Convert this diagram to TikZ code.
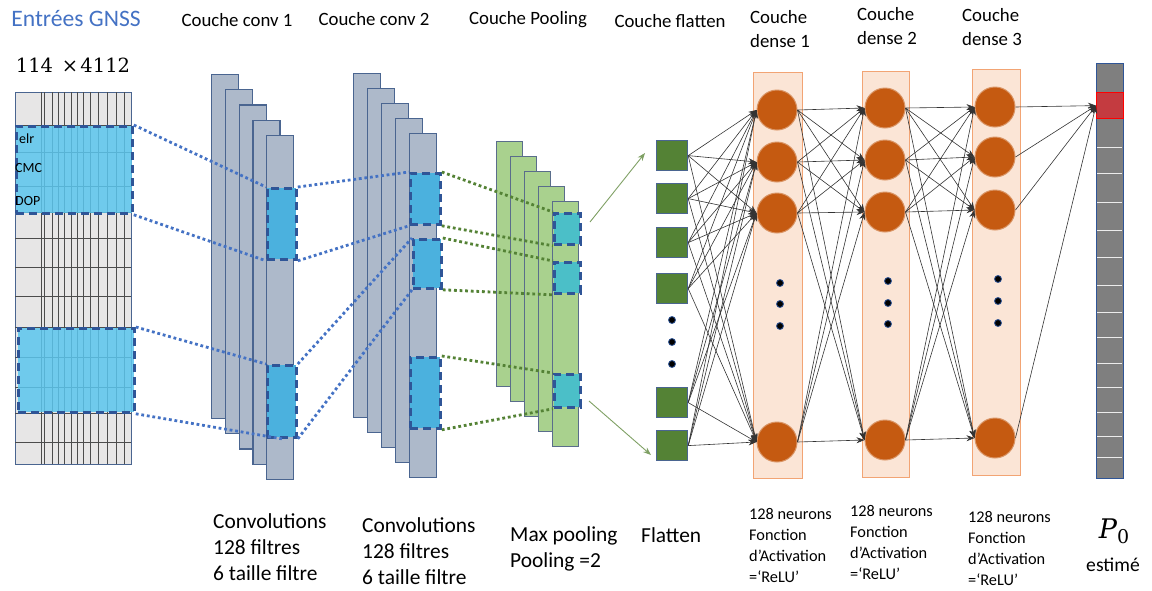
\documentclass[tikz,border=0pt]{standalone}
\usepackage{fontspec}
\setmainfont{Carlito}
\newfontfamily\numfont{DejaVu Serif}
\usetikzlibrary{positioning,arrows.meta,calc}
\definecolor{cnnblue}{HTML}{4472C4}
\definecolor{cnnedge}{HTML}{2F5597}
\definecolor{cnnframe}{HTML}{4A6590}
\definecolor{cnngray}{HTML}{ADB9CA}
\definecolor{cnngrid}{HTML}{E7E6E6}
\definecolor{cnnsky}{HTML}{5BC6EE}
\definecolor{cnnhl}{HTML}{4BB1DE}
\definecolor{cnnlime}{HTML}{A9D18E}
\definecolor{cnnteal}{HTML}{4BBFC8}
\definecolor{cnnolive}{HTML}{548235}
\definecolor{cnnsage}{HTML}{7FA064}
\definecolor{cnnpeach}{HTML}{FBE5D6}
\definecolor{cnnpeachedge}{HTML}{F2A474}
\definecolor{cnnrust}{HTML}{C55A11}
\definecolor{cnnslate}{HTML}{7F7F7F}
\definecolor{cnnred}{HTML}{C43B40}

\begin{document}
\begin{tikzpicture}[x=1pt,y=-1pt,
  ttl/.style={font=\fontsize{18.8}{24}\selectfont,inner sep=0pt,align=center},
  legend/.style={font=\fontsize{21.4}{26}\selectfont,inner sep=0pt,align=left,anchor=north west},
  legendsm/.style={font=\fontsize{16.3}{21}\selectfont,inner sep=0pt,align=left,anchor=north west},
  box/.style={rectangle,anchor=north west,inner sep=0pt,line width=1.2pt},
  cv/.style={box,draw=cnnframe,fill=cnngray},
  pl/.style={box,draw=cnnframe!70!gray,fill=cnnlime},
  hl/.style={box,draw=cnnedge,line width=2.8pt,dash pattern=on 8pt off 5pt},
  lk/.style={line width=2.8pt,dash pattern=on 2.8pt off 2.8pt},
  sq/.style={box,draw=cnnframe,fill=cnnolive,minimum width=31pt,minimum height=30pt},
  neu/.style={circle,fill=cnnrust,draw=cnnrust!65!white,line width=1pt,minimum size=40pt,inner sep=0pt},
  blob/.style={circle,fill=black,draw=cnnedge,line width=0.8pt,minimum size=7pt,inner sep=0pt},
  syn/.style={-{Stealth[length=8pt,width=6pt]},black!80,line width=0.6pt},
  fl/.style={-{Stealth[length=8pt,width=6pt]},cnnsage,line width=0.9pt}]
\useasboundingbox (0,0) rectangle (1152,590);
% ---- titles ----
\node[ttl,font=\fontsize{23.6}{28}\selectfont,text=cnnblue] (tin) at (76,19) {Entrées GNSS};
\node[ttl] (tc1) at (237,20) {Couche conv 1};
\node[ttl] (tc2) at (374,19) {Couche conv 2};
\node[ttl] (tpool) at (528,20) {Couche Pooling};
\node[ttl] (tflat) at (670,21) {Couche flatten};
\node[ttl,align=left,anchor=north west] (td1) at (750,10) {Couche\\dense 1};
\node[ttl,align=left,anchor=north west] (td2) at (857,7) {Couche\\dense 2};
\node[ttl,align=left,anchor=north west] (td3) at (962,8) {Couche\\dense 3};
\node[inner sep=0pt,font=\fontsize{19.5}{24}\numfont] (tdim) at (73,65) {114\hspace{0.45em}×\hspace{0.12em}4112};
% ---- input matrix ----
\node[box,draw=cnnframe,fill=cnngrid,minimum width=116pt,minimum height=372pt] (inp) at (15,92) {};
\foreach \x in {41,44,52,58,64,71,77,83,90,98,107,116,124}
  \draw[black!70,line width=0.7pt] (\x,92) -- (\x,464);
\foreach \y in {125,152,186,212,238,267,296,327,357,387,413,442}
  \draw[black!70,line width=0.7pt] (15,\y) -- (131,\y);
\node[hl,fill=cnnsky,fill opacity=0.85,minimum width=116pt,minimum height=87pt] (ih1) at (15,125) {};
\node[hl,fill=cnnsky,fill opacity=0.85,minimum width=116pt,minimum height=84pt] (ih2) at (17,327) {};
\node[anchor=west,inner sep=0pt,font=\fontsize{14}{16}\selectfont] (lelr) at (19,139) {elr};
\node[anchor=west,inner sep=0pt,font=\fontsize{14}{16}\selectfont] (lcmc) at (15,168) {CMC};
\node[anchor=west,inner sep=0pt,font=\fontsize{14}{16}\selectfont] (ldop) at (15,201) {DOP};
% ---- conv 1 ----
\foreach \i in {0,...,4}
  \node[cv,minimum width=27pt,minimum height=344pt] (c1-\i) at (211+13.8*\i,74+15.2*\i) {};
\node[hl,fill=cnnhl,minimum width=29pt,minimum height=71pt] (c1h1) at (266,187) {};
\node[hl,fill=cnnhl,minimum width=29pt,minimum height=72pt] (c1h2) at (266,364) {};
% ---- conv 2 ----
\foreach \i in {0,...,4}
  \node[cv,minimum width=27pt,minimum height=344pt] (c2-\i) at (353+14*\i,73+15*\i) {};
\node[hl,fill=cnnhl,minimum width=30pt,minimum height=51pt] (c2h1) at (409,172) {};
\node[hl,fill=cnnhl,minimum width=28pt,minimum height=49pt] (c2h2) at (412,238) {};
\node[hl,fill=cnnhl,minimum width=30pt,minimum height=71pt] (c2h3) at (409,356) {};
% ---- pooling ----
\foreach \i in {0,...,4}
  \node[pl,minimum width=26pt,minimum height=245pt] (p-\i) at (496+14*\i,141+15*\i) {};
\node[hl,fill=cnnteal,minimum width=26pt,minimum height=31pt] (ph1) at (553,212) {};
\node[hl,fill=cnnteal,minimum width=26pt,minimum height=31pt] (ph2) at (553,261) {};
\node[hl,fill=cnnteal,minimum width=26pt,minimum height=33pt] (ph3) at (553,373) {};
% ---- dotted links ----
\draw[lk,cnnblue] (ih1.north east) -- (c1h1.north west);
\draw[lk,cnnblue] (ih1.south east) -- (c1h1.south west);
\draw[lk,cnnblue] (ih2.north east) -- (c1h2.north west);
\draw[lk,cnnblue] (ih2.south east) -- (c1h2.south);
\draw[lk,cnnblue] (c1h1.north east) -- (c2h1.north west);
\draw[lk,cnnblue] (c1h1.south east) -- (c2h1.south west);
\draw[lk,cnnblue] (c1h2.north east) -- (c2h2.north west);
\draw[lk,cnnblue] (c1h2.south east) -- (c2h2.south west);
\draw[lk,cnnolive] (c2h1.north east) -- (ph1.north west);
\draw[lk,cnnolive] (c2h1.south east) -- (ph1.south west);
\draw[lk,cnnolive] (c2h2.north east) -- (ph2.north west);
\draw[lk,cnnolive] (c2h2.south east) -- (ph2.south west);
\draw[lk,cnnolive] (c2h3.north east) -- (ph3.north west);
\draw[lk,cnnolive] (c2h3.south east) -- (ph3.south west);
% ---- flatten ----
\coordinate (fa1) at (590,222); \coordinate (fb1) at (645,153);
\coordinate (fa2) at (589,401); \coordinate (fb2) at (651,455);
\draw[fl] (fa1) -- (fb1); \draw[fl] (fa2) -- (fb2);
\foreach \i/\y in {1/140,2/183,3/227,4/273,5/387,6/430}
  \node[sq] (f\i) at (656,\y) {};
\foreach \y [count=\j] in {320,342,364} \node[blob] (fd\j) at (672,\y) {};
% ---- dense layers ----
\node[box,draw=cnnpeachedge,fill=cnnpeach,minimum width=49pt,minimum height=406pt] (d1) at (753,72) {};
\node[box,draw=cnnpeachedge,fill=cnnpeach,minimum width=47pt,minimum height=406pt] (d2) at (862,71) {};
\node[box,draw=cnnpeachedge,fill=cnnpeach,minimum width=48pt,minimum height=406pt] (d3) at (972,69) {};
\foreach \y [count=\j] in {110,162,213,442} \node[neu] (n1-\j) at (777,\y) {};
\foreach \y [count=\j] in {108,160,212,440} \node[neu] (n2-\j) at (885,\y) {};
\foreach \y [count=\j] in {107,157,210,438} \node[neu] (n3-\j) at (995,\y) {};
\foreach \y [count=\j] in {283,304,326} \node[blob] (d1d\j) at (780,\y) {};
\foreach \y [count=\j] in {281,303,324} \node[blob] (d2d\j) at (888,\y) {};
\foreach \y [count=\j] in {279,301,323} \node[blob] (d3d\j) at (998,\y) {};
% ---- output ----
\node[box,draw=cnnedge,fill=cnnslate,minimum width=27pt,minimum height=415pt] (out) at (1096,63) {};
\foreach \y in {147,173,202,230,257,285,312,337,363,387,412,436,457}
  \draw[white!85!gray,line width=0.8pt] (1097,\y) -- (1122,\y);
\node[box,draw=red,fill=cnnred,minimum width=27pt,minimum height=26pt] (ocell) at (1096,92) {};
% ---- synapses ----
\foreach \i in {1,...,6}
  \foreach \j in {1,...,4} \draw[syn] (f\i.east) -- (n1-\j.west);
\foreach \i in {1,...,4}
  \foreach \j in {1,...,4} {
    \draw[syn] (n1-\i.east) -- (n2-\j.west);
    \draw[syn] (n2-\i.east) -- (n3-\j.west);}
\foreach \i in {1,...,4} \draw[syn] (n3-\i.east) -- (ocell.west);
% ---- captions ----
\node[legend] (bc1) at (213,513) {Convolutions\\128 filtres\\6 taille filtre};
\node[legend] (bc2) at (362,517) {Convolutions\\128 filtres\\6 taille filtre};
\node[legend] (bpool) at (510,526) {Max pooling\\Pooling =2};
\node[legend] (bflat) at (641,527) {Flatten};
\node[legendsm] (bd1) at (749,508) {128 neurons\\Fonction\\d’Activation\\=‘ReLU’};
\node[legendsm] (bd2) at (850,505) {128 neurons\\Fonction\\d’Activation\\=‘ReLU’};
\node[legendsm] (bd3) at (968,511) {128 neurons\\Fonction\\d’Activation\\=‘ReLU’};
\node[inner sep=0pt,font=\numfont] (bp) at (1114,531) {{\fontsize{27}{30}\selectfont\itshape P}{\fontsize{19}{22}\selectfont\raisebox{-5pt}{0}}};
\node[ttl,font=\fontsize{19.6}{22}\selectfont] (best) at (1113,565) {estimé};
\end{tikzpicture}
\end{document}
